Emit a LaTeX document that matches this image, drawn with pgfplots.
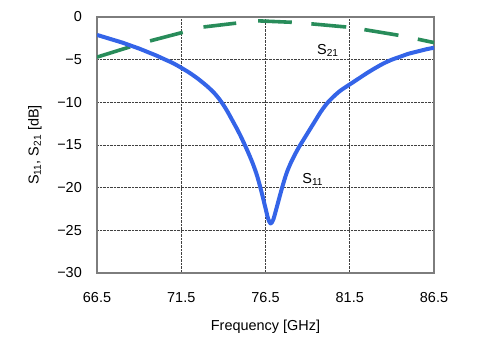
\documentclass[border=0pt]{standalone}
\usepackage{pgfplots}
\pgfplotsset{compat=1.18}
\usepackage{fontspec}
\setmainfont{Liberation Sans}
\definecolor{sblue}{RGB}{52,100,232}
\definecolor{sgreen}{RGB}{40,140,90}
\definecolor{boxgray}{RGB}{125,125,125}
\begin{document}
\begin{tikzpicture}
\useasboundingbox (0,0) rectangle (500bp,360bp);
\begin{axis}[
  at={(97bp,87bp)}, anchor=south west,
  scale only axis, width=337bp, height=256bp,
  xmin=66.5, xmax=86.5, ymin=-30, ymax=0,
  xtick={66.5,71.5,76.5,81.5,86.5},
  xticklabels={66.5,71.5,76.5,81.5,86.5},
  ytick={-30,-25,-20,-15,-10,-5,0},
  yticklabels={−30,−25,−20,−15,−10,−5,0},
  major tick length=0pt,
  axis line style={boxgray, line width=1.3bp},
  grid=major,
  major grid style={black!75, densely dotted, line width=0.6bp},
  tick label style={font=\fontsize{14.5}{16}\selectfont, inner sep=0pt},
  yticklabel style={xshift=-15bp},
  xticklabel style={yshift=-19bp},
  xlabel={Frequency [GHz]},
  ylabel={S\textsubscript{11}, S\textsubscript{21} [dB]},
  every axis x label/.style={at={(axis description cs:0.5,-0.211)},anchor=center,font=\fontsize{14.5}{16}\selectfont},
  every axis y label/.style={at={(axis description cs:-0.184,0.5)},rotate=90,anchor=center,font=\fontsize{14.5}{16}\selectfont},
  clip=true,
]
% S21 segments
\addplot[sgreen, line width=3.6bp, line cap=butt] coordinates {(66.5,-4.7) (68.46,-3.5)};
\addplot[sgreen, line width=3.6bp, line cap=butt] coordinates {(69.65,-2.8) (71.59,-1.8)};
\addplot[sgreen, line width=3.6bp, line cap=butt] coordinates {(72.82,-1.17) (74.76,-0.72)};
\addplot[sgreen, line width=3.6bp, line cap=butt] coordinates {(76.06,-0.45) (78.06,-0.62)};
\addplot[sgreen, line width=3.6bp, line cap=butt] coordinates {(79.22,-0.8) (81.29,-1.17)};
\addplot[sgreen, line width=3.6bp, line cap=butt] coordinates {(82.37,-1.48) (84.39,-2.14)};
\addplot[sgreen, line width=3.6bp, line cap=butt] coordinates {(85.54,-2.6) (86.5,-3.0)};
% S11
\addplot[sblue, line width=4bp, line join=round, smooth, tension=0.5] coordinates {
(66.5,-2.1) (67.0,-2.4) (67.5,-2.7) (68.0,-3.0) (68.5,-3.35) (69.0,-3.7)
(69.5,-4.1) (70.0,-4.5) (70.5,-4.95) (71.0,-5.4) (71.5,-5.95) (72.0,-6.55)
(72.5,-7.25) (73.0,-8.05) (73.25,-8.5) (73.5,-9.0) (73.75,-9.6) (74.0,-10.3)
(74.25,-11.1) (74.5,-12.0) (74.75,-12.9) (75.0,-13.85) (75.25,-14.9) (75.5,-16.0)
(75.75,-17.2) (76.0,-18.6) (76.25,-20.4) (76.5,-22.4) (76.65,-23.6) (76.8,-24.2)
(76.95,-23.8) (77.1,-22.8) (77.25,-21.7) (77.5,-19.9) (77.75,-18.3) (78.0,-17.1)
(78.25,-16.1) (78.5,-15.2) (78.75,-14.4) (79.0,-13.6) (79.25,-12.8) (79.5,-12.0)
(79.75,-11.2) (80.0,-10.5) (80.25,-9.9) (80.5,-9.4) (80.75,-8.95) (81.0,-8.55)
(81.5,-7.9) (82.0,-7.25) (82.5,-6.6) (83.0,-6.0) (83.5,-5.45) (84.0,-5.0)
(84.5,-4.65) (85.0,-4.3) (85.5,-4.05) (86.0,-3.8) (86.5,-3.6)
};
\node[font=\fontsize{14.5}{16}\selectfont] at (axis cs:80.2,-3.9) {S\textsubscript{21}};
\node[font=\fontsize{14.5}{16}\selectfont] at (axis cs:79.3,-19.0) {S\textsubscript{11}};
\end{axis}
\end{tikzpicture}
\end{document}
